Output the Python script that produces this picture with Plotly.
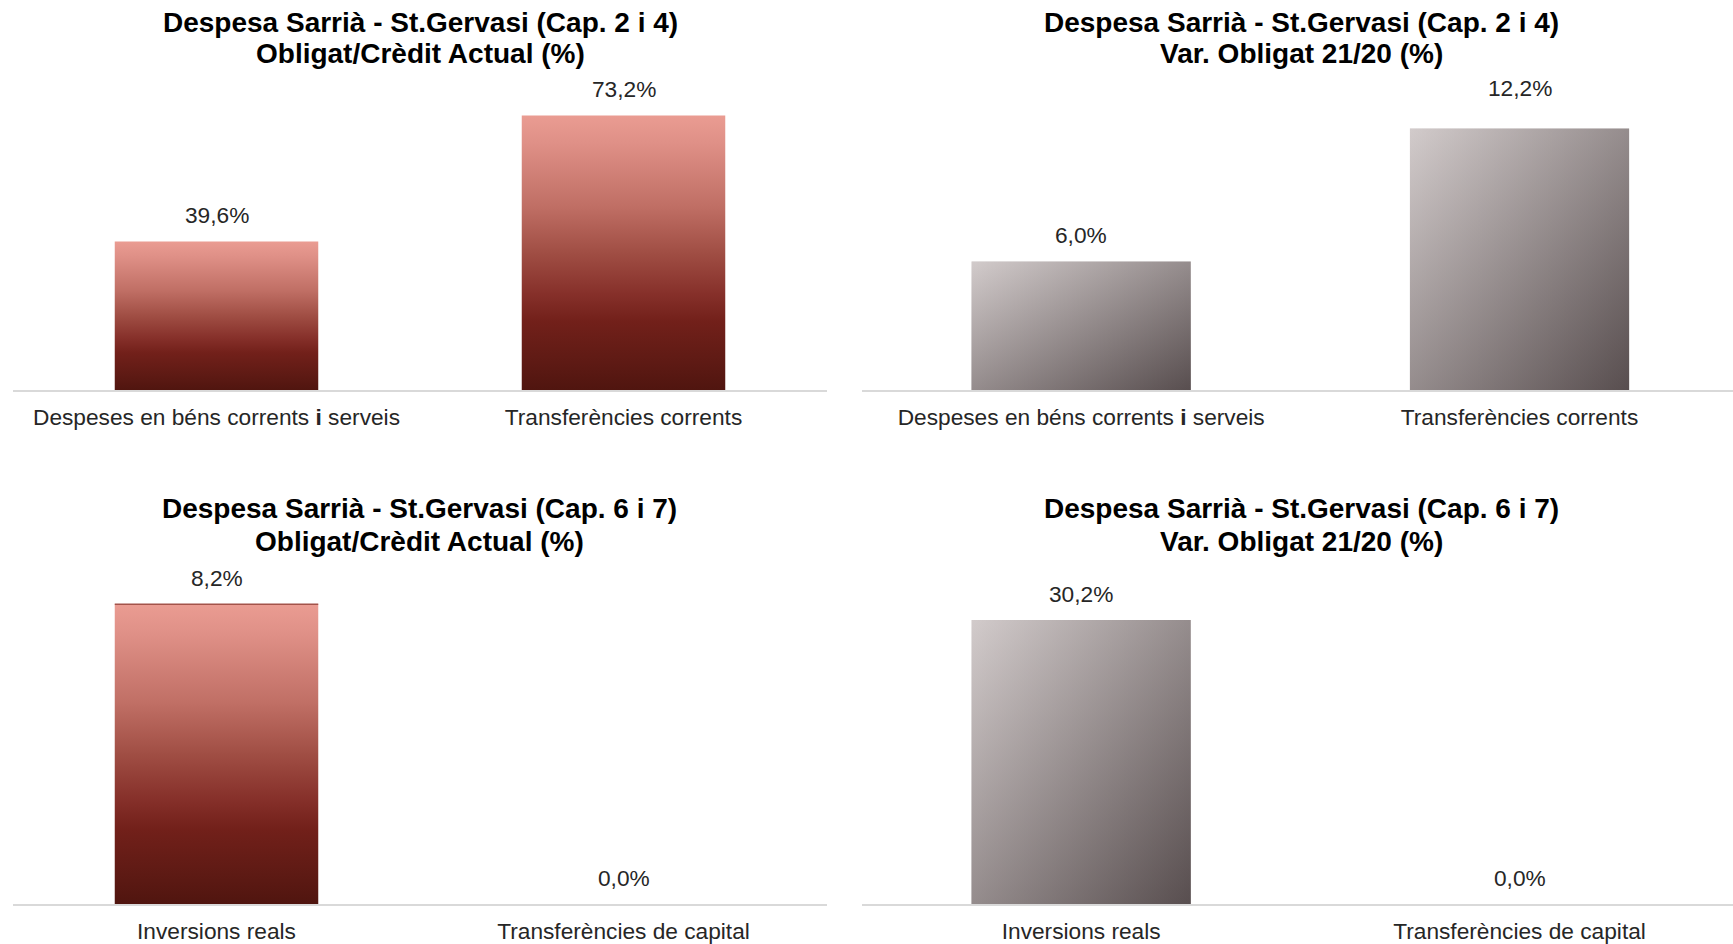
import plotly.graph_objects as go

# ---------------- data ----------------
categories_cap24 = ["Despeses en béns corrents i serveis", "Transferències corrents"]
tick_labels_cap24 = ["Despeses en béns corrents <b>i</b> serveis", "Transferències corrents"]
categories_cap67 = ["Inversions reals", "Transferències de capital"]
tick_labels_cap67 = ["Inversions reals", "Transferències de capital"]

obligat_credit_cap24 = [39.6, 73.2]   # Obligat/Crèdit Actual (%)
var_obligat_cap24 = [6.0, 12.2]       # Var. Obligat 21/20 (%)
obligat_credit_cap67 = [8.2, 0.0]
var_obligat_cap67 = [30.2, 0.0]

title_line1 = [
    "Despesa Sarrià - St.Gervasi (Cap. 2 i 4)",
    "Despesa Sarrià - St.Gervasi (Cap. 2 i 4)",
    "Despesa Sarrià - St.Gervasi (Cap. 6 i 7)",
    "Despesa Sarrià - St.Gervasi (Cap. 6 i 7)",
]
title_line2 = [
    "Obligat/Crèdit Actual (%)",
    "Var. Obligat 21/20 (%)",
    "Obligat/Crèdit Actual (%)",
    "Var. Obligat 21/20 (%)",
]

# ---------------- layout / style ----------------
W, H = 1733, 944
FONT = "Liberation Sans, Arial, sans-serif"
HALF = 0.25  # half bar width in category units
TXT = 22.7

RED_SCALE = [
    [0.0, "#50150F"], [0.1, "#5E1A14"], [0.25, "#72201A"], [0.35, "#86302A"],
    [0.5, "#A04E44"], [0.67, "#C06F65"], [0.9, "#DF9087"], [1.0, "#EA9C92"],
]
GRAY_LIGHT = (210, 203, 203)
GRAY_DARK = (88, 78, 79)

panels = [
    dict(vals=obligat_credit_cap24, ticks=tick_labels_cap24, style="red", edge=False,
         xd=[13 / W, 827 / W], xr=[-0.5, 1.5], top=90, base=390, yr=[0, 80],
         title_x=420, title_y=(22, 53)),
    dict(vals=var_obligat_cap24, ticks=tick_labels_cap24, style="gray", edge=False,
         xd=[862 / W, 1.0], xr=[-0.5, 1.487], top=90, base=390, yr=[0, 14],
         title_x=1301, title_y=(22, 53)),
    dict(vals=obligat_credit_cap67, ticks=tick_labels_cap67, style="red", edge=True,
         xd=[13 / W, 827 / W], xr=[-0.5, 1.5], top=575, base=904, yr=[0, 9],
         title_x=419, title_y=(509, 541)),
    dict(vals=var_obligat_cap67, ticks=tick_labels_cap67, style="gray", edge=False,
         xd=[862 / W, 1.0], xr=[-0.5, 1.487], top=575, base=904, yr=[0, 35],
         title_x=1301, title_y=(509, 541)),
]
label_shift = {(1, 1): 41}

fig = go.Figure()
annotations = []
layout_axes = {}

for p_i, p in enumerate(panels):
    n = p_i + 1
    xa = "x" if n == 1 else f"x{n}"
    ya = "y" if n == 1 else f"y{n}"
    xkey = "xaxis" if n == 1 else f"xaxis{n}"
    ykey = "yaxis" if n == 1 else f"yaxis{n}"

    for i, v in enumerate(p["vals"]):
        if v > 0:
            xs = [i - HALF, i - HALF, i + HALF, i + HALF, i - HALF]
            ys = [0, v, v, 0, 0]
            if p["style"] == "red":
                fig.add_trace(go.Scatter(
                    x=xs, y=ys, xaxis=xa, yaxis=ya, mode="lines", fill="toself",
                    line=dict(width=0), hoverinfo="skip", showlegend=False,
                    fillgradient=dict(type="vertical", colorscale=RED_SCALE),
                ))
                if p["edge"]:
                    fig.add_trace(go.Scatter(
                        x=[i - HALF, i + HALF], y=[v, v], xaxis=xa, yaxis=ya, mode="lines",
                        line=dict(width=1.5, color="#A3534A"), hoverinfo="skip", showlegend=False,
                    ))
            else:
                L, D = GRAY_LIGHT, GRAY_DARK
                fig.add_trace(go.Scatter(
                    x=xs, y=ys, xaxis=xa, yaxis=ya, mode="lines", fill="toself",
                    line=dict(width=0), hoverinfo="skip", showlegend=False,
                    fillgradient=dict(type="vertical", colorscale=[
                        [0, f"rgb{D}"], [1, f"rgb{L}"]]),
                ))
                fig.add_trace(go.Scatter(
                    x=xs, y=ys, xaxis=xa, yaxis=ya, mode="lines", fill="toself",
                    line=dict(width=0), hoverinfo="skip", showlegend=False,
                    fillgradient=dict(type="horizontal", colorscale=[
                        [0, "rgba(%d,%d,%d,0.5)" % L], [1, "rgba(%d,%d,%d,0.5)" % D]]),
                ))
        annotations.append(dict(
            x=i, y=v, xref=xa, yref=ya, text=f"{v:.1f}".replace(".", ",") + "%",
            showarrow=False, yanchor="middle", yshift=label_shift.get((p_i, i), 26),
            font=dict(family=FONT, size=TXT, color="#262626"),
        ))

    layout_axes[xkey] = dict(
        domain=p["xd"], range=p["xr"], anchor=ya, tickvals=[0, 1], ticktext=p["ticks"],
        showline=True, linecolor="#D9D9D9", linewidth=2, showgrid=False, zeroline=False,
        ticks="", ticklabelstandoff=6,
        tickfont=dict(family=FONT, size=TXT, color="#262626"), fixedrange=True,
    )
    layout_axes[ykey] = dict(
        domain=[(H - p["base"]) / H, (H - p["top"]) / H], range=p["yr"], anchor=xa,
        visible=False, showgrid=False, zeroline=False, fixedrange=True,
    )
    for line_text, ty in zip((title_line1[p_i], title_line2[p_i]), p["title_y"]):
        annotations.append(dict(
            x=p["title_x"] / W, y=(H - ty) / H, xref="paper", yref="paper",
            text=f"<b>{line_text}</b>", showarrow=False, xanchor="center", yanchor="middle",
            font=dict(family=FONT, size=28, color="#000000"),
        ))

fig.update_layout(
    width=W, height=H, margin=dict(l=0, r=0, t=0, b=0),
    paper_bgcolor="white", plot_bgcolor="white",
    annotations=annotations, showlegend=False, **layout_axes,
)

fig.write_html(
    "out.html",
    config={"displayModeBar": False},
    post_script="document.body.style.margin='0';document.body.style.overflow='hidden';",
)
